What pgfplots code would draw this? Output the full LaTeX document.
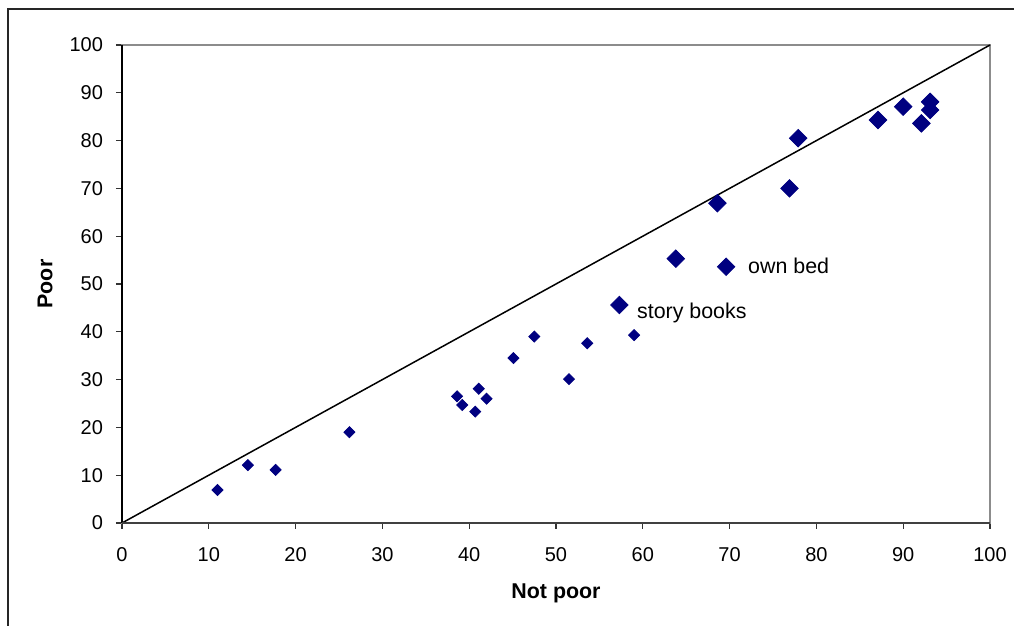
\documentclass[border=0pt]{standalone}
\usepackage{fontspec}
\setmainfont{Liberation Sans}
\usepackage{pgfplots}
\pgfplotsset{compat=1.18}
\definecolor{navyb}{HTML}{000080}
\begin{document}
\begin{tikzpicture}
\useasboundingbox (0pt,0pt) rectangle (507pt,313pt);
\draw[line width=1pt, black!85] (4pt,0pt) -- (4pt,308.5pt) -- (507pt,308.5pt);
\begin{axis}[
  at={(61pt,51.5pt)}, anchor=south west,
  width=434pt, height=239pt, scale only axis,
  xmin=0, xmax=100, ymin=0, ymax=100,
  xtick={0,10,...,100}, ytick={0,10,...,100},
  tick align=outside, xtick pos=bottom, ytick pos=left,
  major tick length=3pt,
  tick style={black!80, line width=0.6pt},
  axis line style={gray!90, line width=0.8pt},
  ticklabel style={font=\fontsize{10}{12}\selectfont},
  xticklabel style={yshift=-5.5pt},
  yticklabel style={xshift=-3pt},
  /pgf/number format/assume math mode=true,
  xlabel={Not poor}, ylabel={Poor},
  label style={font=\fontsize{10.7}{13}\selectfont\bfseries},
  xlabel style={at={(axis description cs:0.5,-0.1464)}, anchor=center},
  ylabel style={at={(axis description cs:-0.0887,0.5)}, anchor=center},
  clip=false,
]
\addplot[black, line width=0.75pt, no marks] coordinates {(0,0) (100,100)};
\addplot[only marks, mark=square*, mark size=1.95pt, mark options={rotate=45, fill=navyb, draw=navyb}] coordinates {
(11.0,6.9) (14.5,12.1) (17.7,11.1) (26.2,19.0) (38.6,26.5) (39.2,24.7) (40.7,23.3)
(41.1,28.1) (42.0,26.0) (45.1,34.5) (47.5,39.0) (51.5,30.1) (53.6,37.6) (59.0,39.3)
};
\addplot[only marks, mark=square*, mark size=3.1pt, mark options={rotate=45, fill=navyb, draw=navyb}] coordinates {
(57.3,45.6) (63.8,55.3) (68.6,66.9) (69.6,53.6) (76.9,70.0) (77.9,80.5)
(87.1,84.3) (90.0,87.1) (92.1,83.6) (93.1,86.4) (93.1,88.1)
};
\draw[black, line width=0.8pt] (rel axis cs:0,0) -- (rel axis cs:0,1);
\draw[black!75, line width=0.9pt] (rel axis cs:0,0) -- (rel axis cs:1,0);
\node[anchor=west, font=\fontsize{10.7}{13}\selectfont, inner sep=0pt] at (axis cs:72.1,53.8) {own bed};
\node[anchor=west, font=\fontsize{10.7}{13}\selectfont, inner sep=0pt] at (axis cs:59.3,44.0) {story books};
\end{axis}
\end{tikzpicture}
\end{document}
